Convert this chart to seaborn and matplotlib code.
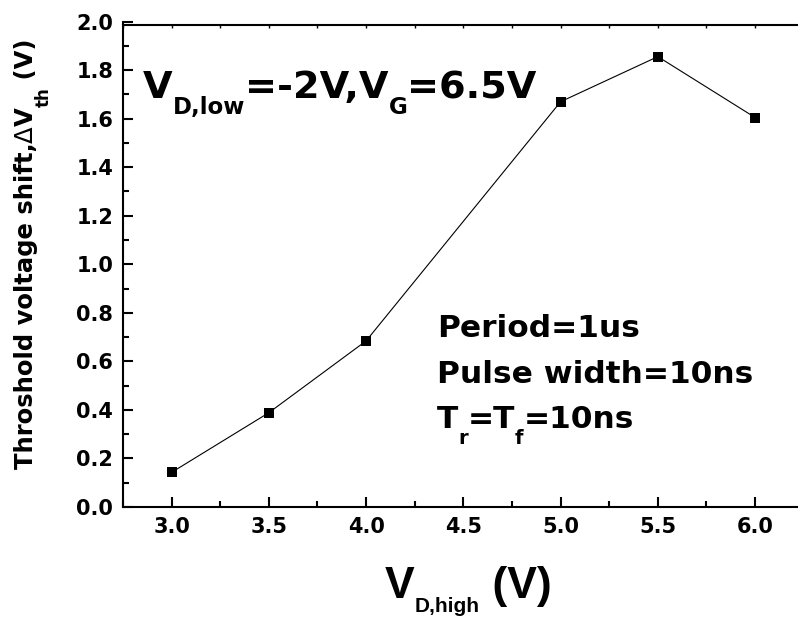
import matplotlib
matplotlib.use('Agg')
import matplotlib.pyplot as plt
import seaborn as sns
import numpy as np
import pandas as pd
from matplotlib.ticker import MultipleLocator

# ---- data ----
v_d_high = [3.0, 3.5, 4.0, 5.0, 5.5, 6.0]
delta_vth = [0.142, 0.388, 0.684, 1.670, 1.856, 1.605]
x_ticks = [3.0, 3.5, 4.0, 4.5, 5.0, 5.5, 6.0]
y_ticks = [0.0, 0.2, 0.4, 0.6, 0.8, 1.0, 1.2, 1.4, 1.6, 1.8, 2.0]

sns.set_style('ticks')
WIDE = ['DejaVu Sans']
NARROW = ['Liberation Sans', 'DejaVu Sans']
plt.rcParams['font.family'] = WIDE
plt.rcParams['font.weight'] = 'bold'

W, H = 798, 617
fig = plt.figure(figsize=(W / 100, H / 100), dpi=100)
ax = fig.add_axes([123 / W, 1 - 506.8 / H, 680.7 / W, 485.1 / H])

df = pd.DataFrame({'x': v_d_high, 'y': delta_vth})
sns.lineplot(data=df, x='x', y='y', ax=ax, color='black', marker='s',
             markersize=7.7, markeredgewidth=0, linewidth=0.8)

ax.set_xlim(2.75, 6.25)
ax.set_ylim(0, 2.0)
ax.set_xticks(x_ticks)
ax.set_xticklabels([f'{v:.1f}' for v in x_ticks])
ax.set_yticks(y_ticks)
ax.set_yticklabels([f'{v:.1f}' for v in y_ticks])
ax.xaxis.set_minor_locator(MultipleLocator(0.25))
ax.yaxis.set_minor_locator(MultipleLocator(0.1))
ax.tick_params(which='both', direction='in', width=1.5, labelsize=15,
               top=False, right=False, colors='black')
ax.tick_params(which='major', length=7.2)
ax.tick_params(which='minor', length=4)
ax.tick_params(axis='x', pad=7)
ax.tick_params(axis='y', pad=7)
ax.set_xlabel('')
ax.set_ylabel('')
for s in ['left', 'bottom']:
    ax.spines[s].set_linewidth(1.5)
    ax.spines[s].set_color('black')
ax.spines['top'].set_visible(False)
ax.spines['right'].set_visible(False)

sec = ax.secondary_xaxis(1.987 / 2.0)
sec.set_xticks(x_ticks)
sec.xaxis.set_minor_locator(MultipleLocator(0.25))
sec.tick_params(which='both', direction='in', length=2.5, width=1,
                labeltop=False, labelbottom=False, colors='black')
sec.spines['top'].set_linewidth(1.5)
sec.spines['top'].set_color('black')

renderer = fig.canvas.get_renderer()


def seg_width(s, size, weight, family):
    t = fig.text(0, 0, s, fontsize=size, fontweight=weight, family=family)
    w = t.get_window_extent(renderer).width
    t.remove()
    return w


def rich(segs, x, y, rot=0, end=None, family=WIDE):
    # segs: (text, size, dy[, weight]); x, y in pixels from top-left (baseline start)
    segs = [(s[0], s[1], s[2], s[3] if len(s) > 3 else 'bold') for s in segs]
    widths = [seg_width(s, sz, w, family) for s, sz, dy, w in segs]
    total = sum(widths)
    if end is not None:
        y = end + total
    cur = 0
    for (s, sz, dy, w), wd in zip(segs, widths):
        if rot == 0:
            px, py = x + cur, y + dy
        else:
            px, py = x + dy, y - cur
        fig.text(px / W, 1 - py / H, s, fontsize=sz, fontweight=w, family=family,
                 rotation=rot, rotation_mode='anchor', ha='left', va='baseline',
                 color='black')
        cur += wd
    return total


# y label (rotated)
rich([("Throshold voltage shift,", 17.5, 0), ("\u0394", 17.5, 0, 'normal'),
      ("V", 17.5, 0), ("th", 12, 16), (" (V)", 17.5, 0)], 33, 0, rot=90, end=38)

# x label
rich([("V", 32, 0), ("D,high", 15, 13.4), (" (V)", 32, 0)], 385, 598.3,
     family=NARROW)

# top annotation
rich([("V", 27.5, 0), ("D,low", 16.5, 15.5), ("=-2V,V", 27.5, 0), ("G", 16.5, 15.5),
      ("=6.5V", 27.5, 0)], 143, 98.3)

# pulse info
rich([("Period=1us", 22.5, 0)], 436.7, 336.7)
rich([("Pulse width=10ns", 22.5, 0)], 436.7, 383.3)
rich([("T", 22.5, 0), ("r", 14, 15.7), ("=T", 22.5, 0), ("f", 14, 15.7),
      ("=10ns", 22.5, 0)], 436.7, 428.3)

fig.savefig('out.png', dpi=100, facecolor='white')
